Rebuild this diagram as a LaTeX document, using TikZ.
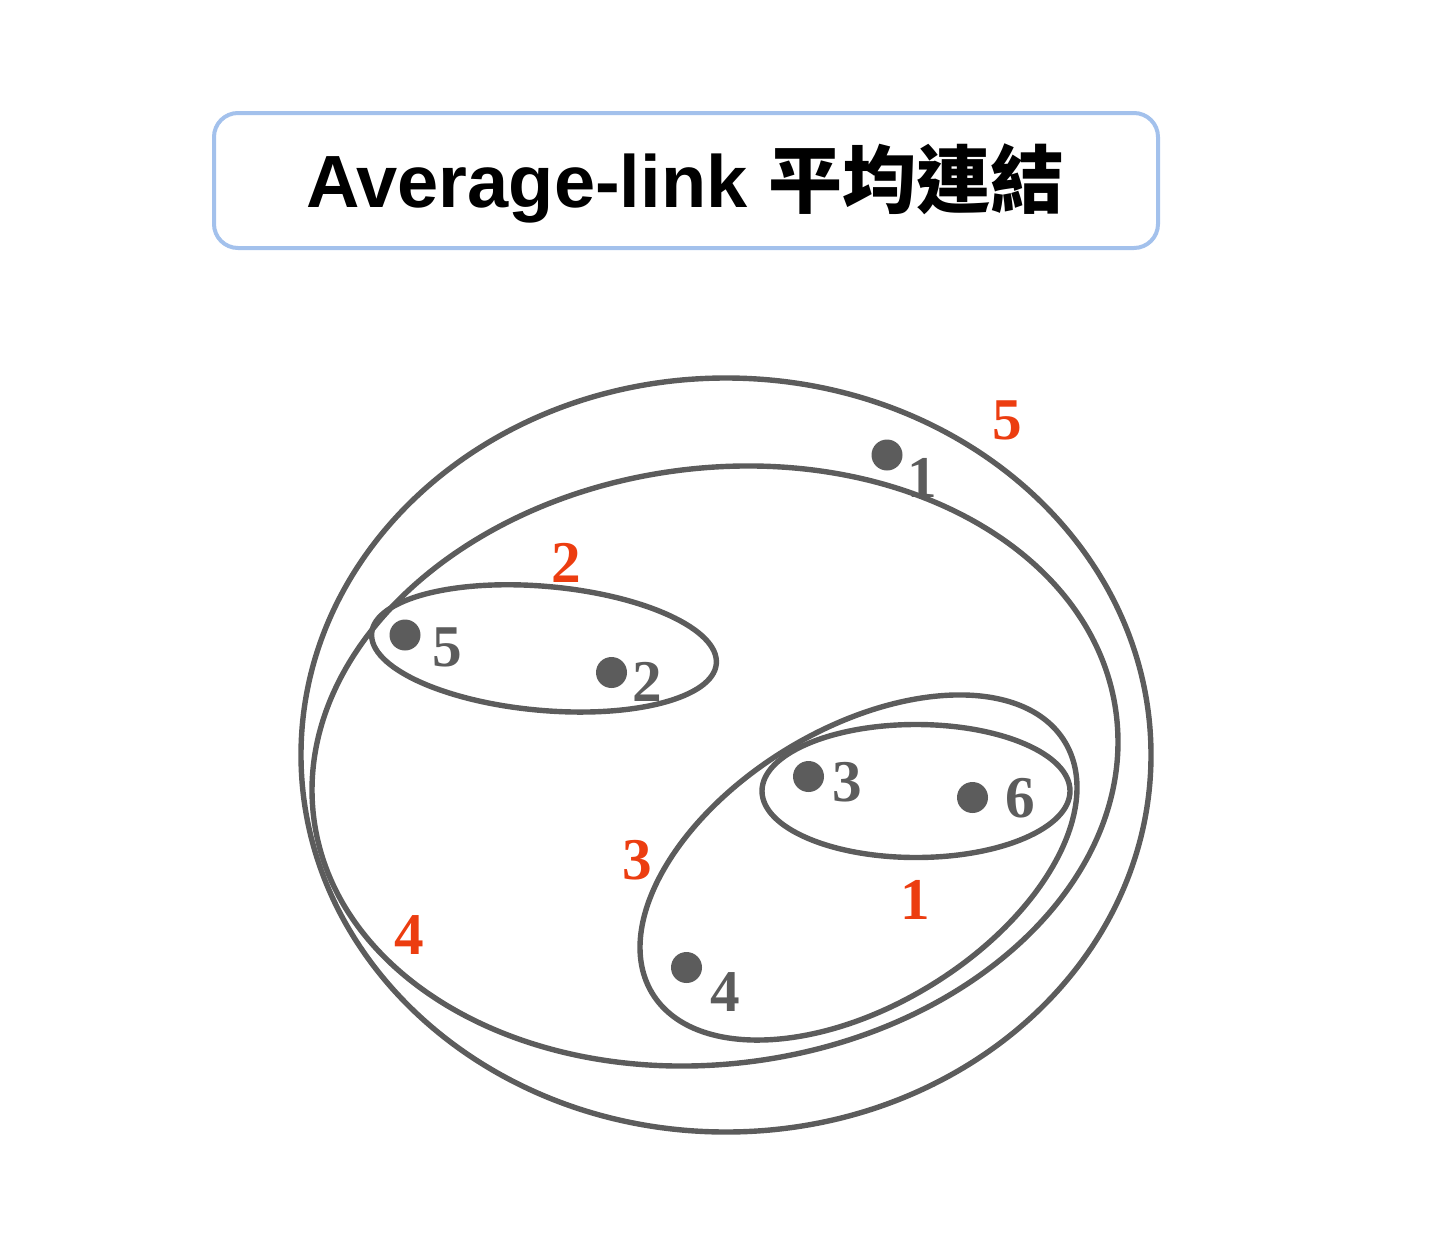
\documentclass[tikz,border=0pt]{standalone}
\usepackage{fontspec}
\setmainfont{Liberation Serif}
\setsansfont{Liberation Sans}
\newfontfamily\cjk{Noto Sans CJK TC}
\usetikzlibrary{shapes.geometric}
\definecolor{lineg}{HTML}{5C5C5C}
\definecolor{redn}{HTML}{EC3D10}
\definecolor{boxblue}{HTML}{A3C1EC}
\begin{document}
\begin{tikzpicture}[x=0.5pt,y=0.5pt,
  clus/.style={ellipse,draw=lineg,line width=2.7pt,inner sep=0pt,outer sep=0pt},
  pt/.style={circle,fill=lineg,inner sep=0pt,minimum size=15.5pt},
  plab/.style={text=lineg,inner sep=0pt,font=\fontsize{29.6}{30}\selectfont\bfseries},
  rlab/.style={text=redn,inner sep=0pt,font=\fontsize{29.6}{30}\selectfont\bfseries}]
\useasboundingbox (0,0) rectangle (1440,-1258);
% title
\node[draw=boxblue,line width=2pt,rounded corners=12pt,minimum width=472pt,minimum height=67.5pt,inner sep=0pt] (title) at (686,-180.5) {};
\node[anchor=base,inner sep=0pt,font=\fontsize{37}{40}\selectfont] (titletext) at (685,-207)
  {\sffamily\bfseries Average-link {\cjk\bfseries 平均連結}};
% clusters
\node[clus,minimum width=425pt,minimum height=377pt] (c5) at (726,-755) {};
\node[clus,minimum width=404.6pt,minimum height=297.8pt,rotate=7.6] (c4) at (715,-766) {};
\node[clus,minimum width=241.6pt,minimum height=138.3pt,rotate=31.4] (c3) at (858.5,-867.5) {};
\node[clus,minimum width=154pt,minimum height=66.5pt] (c1) at (916,-791) {};
\node[clus,minimum width=173pt,minimum height=62pt,rotate=-5.1] (c2) at (544,-648.4) {};
% points
\node[pt] (p1) at (887,-455) {};
\node[pt] (p5) at (405,-635) {};
\node[pt] (p2) at (611.5,-672.5) {};
\node[pt] (p3) at (808.5,-776.5) {};
\node[pt] (p6) at (972.5,-797.5) {};
\node[pt] (p4) at (686.5,-967.5) {};
% point labels
\node[plab] (l1) at (922,-478) {1};
\node[plab] (l5) at (447,-647) {5};
\node[plab] (l2) at (647,-682) {2};
\node[plab] (l3) at (847,-782) {3};
\node[plab] (l6) at (1020,-798) {6};
\node[plab] (l4) at (725,-992) {4};
% merge order labels
\node[rlab] (r5) at (1007,-420) {5};
\node[rlab] (r2) at (566,-563) {2};
\node[rlab] (r3) at (637,-860) {3};
\node[rlab] (r1) at (915,-900) {1};
\node[rlab] (r4) at (409,-935) {4};
\end{tikzpicture}
\end{document}
